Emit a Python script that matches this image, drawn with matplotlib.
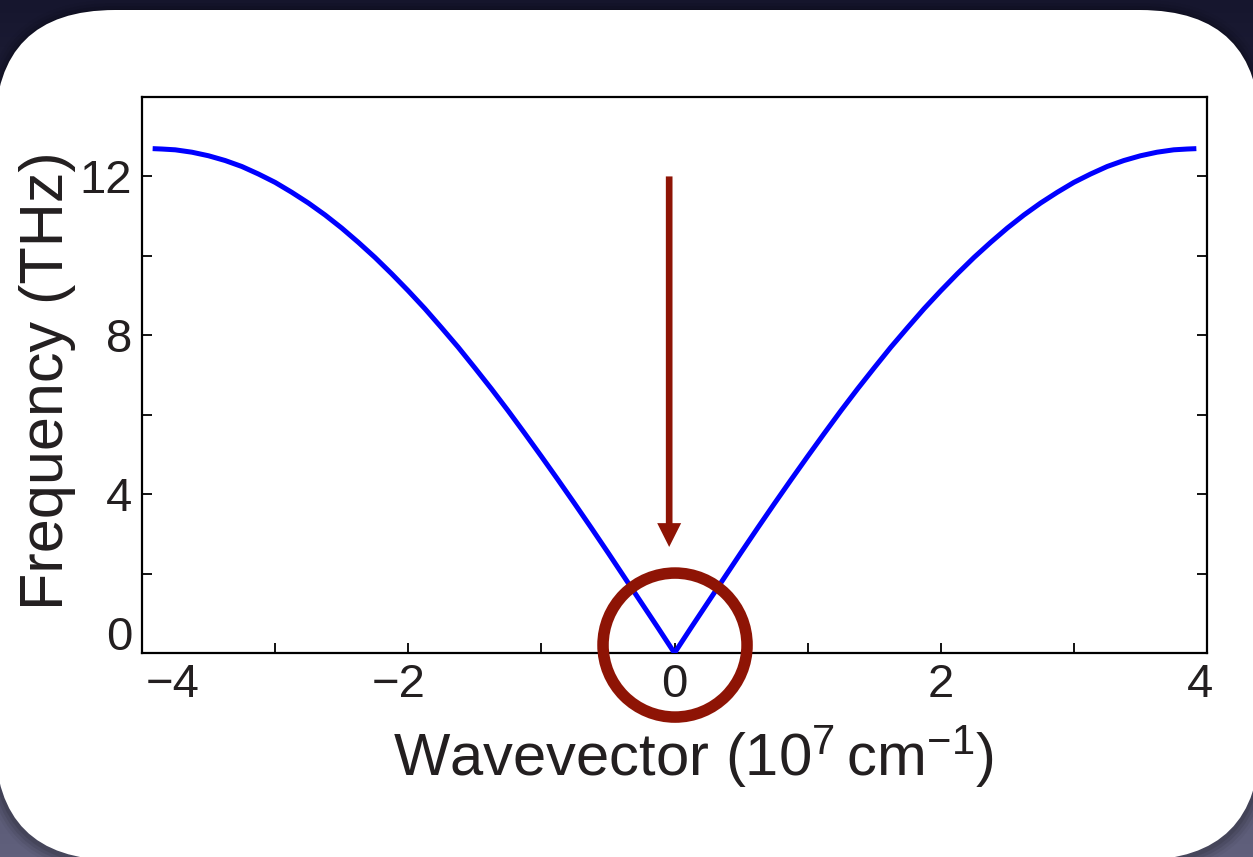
import matplotlib
matplotlib.use("Agg")
import matplotlib.pyplot as plt
import numpy as np
from matplotlib.patches import FancyBboxPatch, Ellipse
from matplotlib.transforms import ScaledTranslation

plt.rcParams['font.family'] = ['Liberation Sans', 'DejaVu Sans']
plt.rcParams['mathtext.default'] = 'regular'

# acoustic branch, wavevector in 1e7 cm^-1, frequency in THz
wavevector = [-3.92, -3.85, -3.75, -3.625, -3.5, -3.375, -3.25, -3.125, -3.0,
              -2.875, -2.75, -2.625, -2.5, -2.375, -2.25, -2.125, -2.0,
              -1.875, -1.75, -1.625, -1.5, -1.375, -1.25, -1.125, -1.0,
              -0.875, -0.75, -0.625, -0.5, -0.375, -0.25, -0.125, 0.0,
              0.125, 0.25, 0.375, 0.5, 0.625, 0.75, 0.875, 1.0,
              1.125, 1.25, 1.375, 1.5, 1.625, 1.75, 1.875, 2.0,
              2.125, 2.25, 2.375, 2.5, 2.625, 2.75, 2.875, 3.0,
              3.125, 3.25, 3.375, 3.5, 3.625, 3.75, 3.85, 3.92]
frequency = [12.70, 12.69, 12.67, 12.61, 12.52, 12.40, 12.25, 12.06, 11.85,
             11.60, 11.33, 11.03, 10.70, 10.34, 9.96, 9.55, 9.12,
             8.67, 8.19, 7.70, 7.18, 6.65, 6.10, 5.53, 4.95,
             4.36, 3.76, 3.15, 2.53, 1.90, 1.27, 0.64, 0.0,
             0.64, 1.27, 1.90, 2.53, 3.15, 3.76, 4.36, 4.95,
             5.53, 6.10, 6.65, 7.18, 7.70, 8.19, 8.67, 9.12,
             9.55, 9.96, 10.34, 10.70, 11.03, 11.33, 11.60, 11.85,
             12.06, 12.25, 12.40, 12.52, 12.61, 12.67, 12.69, 12.70]

xticks = [-4, -2, 0, 2, 4]
xtick_labels = ['\u22124', '\u22122', '0', '2', '4']
yticks = [0, 4, 8, 12]
ytick_labels = ['0', '4', '8', '12']

RED = '#8e1405'
INK = '#231f20'
W, H = 1253, 857

fig = plt.figure(figsize=(W / 100, H / 100), dpi=100)

# slide background: dark gradient with a white rounded card
bg = fig.add_axes([0, 0, 1, 1])
bg.set_xlim(0, W)
bg.set_ylim(H, 0)
bg.axis('off')
top = np.array([22, 22, 46]) / 255
bottom = np.array([96, 96, 124]) / 255
t = np.linspace(0, 1, 256)[:, None, None]
grad = top * (1 - t) + bottom * t
bg.imshow(grad, extent=(0, W, H, 0), aspect='auto', zorder=0)
for i, a in enumerate([0.10, 0.08, 0.06, 0.04]):
    g = 3 * (i + 1)
    bg.add_patch(FancyBboxPatch((-5 - g, 10 - g + 2), 1265 + 2 * g, 850 + 2 * g,
                                boxstyle="round,pad=0,rounding_size=%d" % (120 + g),
                                fc='black', ec='none', alpha=a, zorder=1))
bg.add_patch(FancyBboxPatch((-5, 10), 1265, 850,
                            boxstyle="round,pad=0,rounding_size=120",
                            fc='white', ec='none', zorder=2))

ax = fig.add_axes([142 / W, 1 - 653 / H, 1065 / W, 556 / H])
ax.plot(wavevector, frequency, color='#0000ff', lw=3.6, solid_capstyle='butt', zorder=3)
ax.set_xlim(-4, 4)
ax.set_ylim(0, 14)

ax.set_xticks(xticks)
ax.set_xticklabels(xtick_labels)
ax.set_yticks(yticks)
ax.set_yticklabels(ytick_labels)
ax.set_xticks([-3, -1, 1, 3], minor=True)
ax.set_yticks([2, 6, 10], minor=True)
ax.tick_params(which='both', direction='in', length=7.5, width=1.3,
               top=False, right=True, colors='black')
ax.tick_params(which='major', labelsize=34, labelcolor=INK, pad=7)
for s in ax.spines.values():
    s.set_linewidth(1.6)

# nudge a few tick labels the way the slide has them
x_shift = {0: 31, 1: -10, 4: -7}
for i, lab in enumerate(ax.get_xticklabels()):
    if i in x_shift:
        lab.set_transform(lab.get_transform() +
                          ScaledTranslation(x_shift[i] / 100, 0, fig.dpi_scale_trans))
ylab0 = ax.get_yticklabels()[0]
ylab0.set_transform(ylab0.get_transform() +
                    ScaledTranslation(0, 20 / 100, fig.dpi_scale_trans))

# arrow pointing at the zone centre and the ring around it
ax.arrow(-0.04, 12.0, 0, -9.33, width=0.05, head_width=0.18, head_length=0.6,
         length_includes_head=True, color=RED, lw=0, zorder=4)
ax.add_patch(Ellipse((0.004, 0.2), 2 * 72 / 133.1, 2 * 72 / 39.71, fill=False,
                     ec=RED, lw=8.3, clip_on=False, zorder=5))

fig.text(48 / W, 1 - 381 / H, 'Frequency (THz)', rotation=90, ha='center',
         va='center', fontsize=44, color=INK)
fig.text(694 / W, 1 - 776 / H, r'Wavevector (10$^{7}\,$cm$^{-1}$)', ha='center',
         va='baseline', fontsize=43, color=INK)

fig.savefig('out.png', dpi=100)
